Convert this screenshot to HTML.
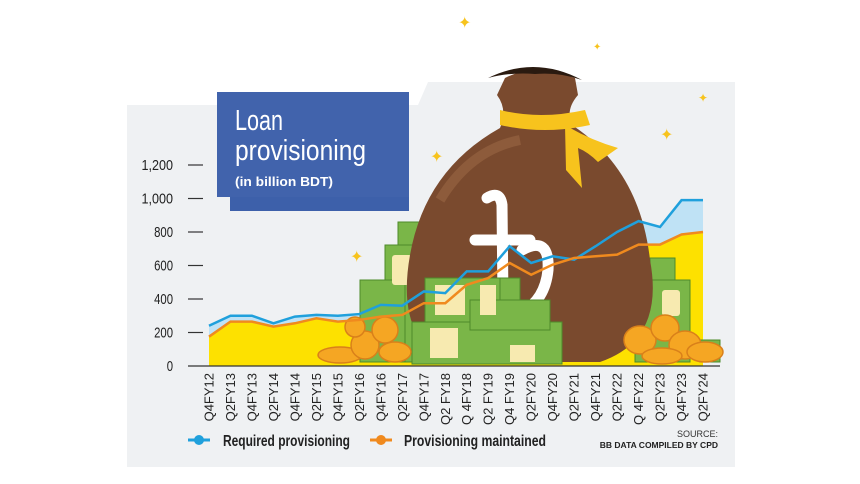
<!DOCTYPE html>
<html><head><meta charset="utf-8">
<style>
html,body{margin:0;padding:0;background:#fff;}
body{width:860px;height:484px;overflow:hidden;position:relative;font-family:"Liberation Sans Narrow","Liberation Sans",sans-serif;}
svg{position:absolute;left:0;top:0;}
</style></head>
<body>
<svg id="chart" width="860" height="484" viewBox="0 0 860 484">
  <path d="M127 105 L418 105 L428 82 L735 82 L735 467 L127 467 Z" fill="#eff1f3"/>
  <g id="areas"></g>
  <g>
    <g fill="#7ab648" stroke="#4e8a2a" stroke-width="1">
      <rect x="398" y="222" width="40" height="140"/>
      <rect x="385" y="245" width="40" height="117"/>
      <rect x="360" y="280" width="45" height="82"/>
      <rect x="650" y="258" width="25" height="104"/>
      <rect x="635" y="280" width="55" height="82"/>
      <rect x="700" y="340" width="20" height="22"/>
    </g>
    <g fill="#f7eab0">
      <rect x="392" y="255" width="20" height="30" rx="3"/>
      <rect x="662" y="290" width="18" height="26" rx="3"/>
    </g>
    <path d="M505 78 Q535 62 575 78 L578 95 Q565 110 572 125 Q640 170 650 260 Q665 340 600 362 L450 362 Q395 340 410 255 Q425 170 500 128 Q508 110 497 95 Z" fill="#7a4a2e"/>
    <path d="M440 200 Q470 150 520 140" stroke="#9a6844" stroke-width="10" fill="none" opacity="0.6"/>
    <path d="M488 78 Q535 55 582 80 Q560 72 535 74 Q510 72 488 78 Z" fill="#2a1a10"/>
    <path d="M500 110 Q540 120 585 110 L590 125 Q545 135 500 125 Z" fill="#f7c31d"/>
    <path d="M565 125 Q590 140 618 148 L598 162 Q588 152 578 148 L582 188 L566 170 Z" fill="#f7c31d"/>
    <g fill="none" stroke="#fff" stroke-width="11" stroke-linecap="round">
      <path d="M487 198 Q500 190 502 205 L503 300 Q506 315 520 312"/>
      <path d="M475 240 L530 240"/>
      <path d="M522 250 Q550 235 548 270 Q545 300 522 312"/>
    </g>
    <g fill="#7ab648" stroke="#4e8a2a" stroke-width="1">
      <rect x="425" y="278" width="85" height="44"/>
      <rect x="500" y="278" width="20" height="44"/>
      <rect x="412" y="322" width="150" height="42"/>
      <rect x="470" y="300" width="80" height="30"/>
    </g>
    <g fill="#f7eab0">
      <rect x="435" y="285" width="30" height="30"/>
      <rect x="480" y="285" width="16" height="30"/>
      <rect x="430" y="328" width="28" height="30"/>
      <rect x="510" y="345" width="25" height="17"/>
    </g>
    <g fill="#f5a623" stroke="#d9801a" stroke-width="1.5">
      <ellipse cx="340" cy="355" rx="22" ry="8"/>
      <ellipse cx="365" cy="345" rx="14" ry="14"/>
      <ellipse cx="385" cy="330" rx="13" ry="13"/>
      <ellipse cx="395" cy="352" rx="16" ry="10"/>
      <ellipse cx="355" cy="327" rx="10" ry="10"/>
      <ellipse cx="640" cy="340" rx="16" ry="14"/>
      <ellipse cx="665" cy="328" rx="14" ry="13"/>
      <ellipse cx="685" cy="345" rx="16" ry="14"/>
      <ellipse cx="705" cy="352" rx="18" ry="10"/>
      <ellipse cx="662" cy="356" rx="20" ry="8"/>
    </g>
    <g fill="#f7c31d" font-size="16">
      <text x="458" y="28">✦</text>
      <text x="430" y="162">✦</text>
      <text x="660" y="140">✦</text>
      <text x="350" y="262">✦</text>
      <text x="698" y="102" font-size="12">✦</text>
      <text x="593" y="50" font-size="10">✦</text>
    </g>
  </g>
  <g id="lines"></g>
  <g id="axes"></g>
  <rect x="230" y="105" width="179" height="106" fill="#3d60aa"/>
  <rect x="217" y="92" width="192" height="105" fill="#4163ac"/>
  <text x="235" y="130" font-size="29" fill="#fff" textLength="48" lengthAdjust="spacingAndGlyphs">Loan</text>
  <text x="235" y="160" font-size="29" fill="#fff" textLength="131" lengthAdjust="spacingAndGlyphs">provisioning</text>
  <text x="235" y="186" font-size="13" font-weight="bold" fill="#fff" textLength="98" lengthAdjust="spacingAndGlyphs">(in billion BDT)</text>
  <g>
    <line x1="188" y1="440" x2="210" y2="440" stroke="#1fa0dc" stroke-width="3"/>
    <circle cx="199" cy="440" r="5" fill="#1fa0dc"/>
    <text x="223" y="446" font-size="16" font-weight="bold" fill="#222" textLength="127" lengthAdjust="spacingAndGlyphs">Required provisioning</text>
    <line x1="370" y1="440" x2="392" y2="440" stroke="#f08a1e" stroke-width="3"/>
    <circle cx="381" cy="440" r="5" fill="#f08a1e"/>
    <text x="404" y="446" font-size="16" font-weight="bold" fill="#222" textLength="142" lengthAdjust="spacingAndGlyphs">Provisioning maintained</text>
  </g>
  <text x="718" y="437" font-size="9" fill="#333" text-anchor="end" font-family="Liberation Sans, sans-serif">SOURCE:</text>
  <text x="718" y="448" font-size="8.5" font-weight="bold" fill="#222" text-anchor="end" font-family="Liberation Sans, sans-serif">BB DATA COMPILED BY CPD</text>
</svg>
<script>
const categories = ["Q4FY12","Q2FY13","Q4FY13","Q2FY14","Q4FY14","Q2FY15","Q4FY15","Q2FY16","Q4FY16","Q2FY17","Q4FY17","Q2 FY18","Q 4FY18","Q2 FY19","Q4 FY19","Q2FY20","Q4FY20","Q2FY21","Q4FY21","Q2FY22","Q 4FY22","Q2FY23","Q4FY23","Q2FY24"];
const required = [240,300,300,255,295,305,300,310,365,360,445,435,565,565,715,615,655,635,715,800,865,830,990,990];
const maintained = [175,265,265,235,255,285,265,275,295,305,375,375,485,525,615,545,605,645,655,665,725,725,785,800];
const yTicks = [0,200,400,600,800,1000,1200];
const tickLabels = ["0","200","400","600","800","1,000","1,200"];

const NS = "http://www.w3.org/2000/svg";
const x0 = 209, x1 = 703, yBase = 366, yTop = 165;
function xs(i){ return x0 + i*(x1-x0)/(categories.length-1); }
function ys(v){ return yBase - v*(yBase-yTop)/1200; }
function mk(tag, attrs, parent){ const e=document.createElementNS(NS,tag); for(const k in attrs) e.setAttribute(k,attrs[k]); parent.appendChild(e); return e; }

const areas = document.getElementById('areas');
const lines = document.getElementById('lines');
const axes = document.getElementById('axes');

function areaPath(arr){ let d="M"+xs(0)+" "+yBase; arr.forEach((v,i)=>{ d+=" L"+xs(i)+" "+ys(v); }); d+=" L"+xs(arr.length-1)+" "+yBase+" Z"; return d; }
function linePath(arr){ return arr.map((v,i)=>(i?"L":"M")+xs(i)+" "+ys(v)).join(" "); }

const aReq = mk('path',{d:areaPath(required),fill:"#bfe2f5"},areas);


const aMai = mk('path',{d:areaPath(maintained),fill:"#fde100"},areas);



const lReq = mk('path',{d:linePath(required),fill:"none",stroke:"#1fa0dc","stroke-width":2.5},lines);


const lMai = mk('path',{d:linePath(maintained),fill:"none",stroke:"#f08a1e","stroke-width":2.5},lines);



const base = mk('line',{x1:188,y1:yBase,x2:720,y2:yBase,stroke:"#333","stroke-width":1.2},axes);



yTicks.forEach((v,i)=>{
  if(v>0){
    const t = mk('line',{x1:188,x2:203,y1:ys(v),y2:ys(v),stroke:"#333","stroke-width":1.2},axes);
    
    
  }
  const w = tickLabels[i].length * 6.3;
  const lb = mk('text',{x:173-w,y:ys(v)+5,"font-size":15,fill:"#222",textLength:w,lengthAdjust:"spacingAndGlyphs"},axes);
  lb.textContent = tickLabels[i];
  
  
});

categories.forEach((c,i)=>{
  const lb = mk('text',{x:0,y:0,"font-size":13,"text-anchor":"end",fill:"#222",transform:"translate("+(xs(i)+4.5)+",373) rotate(-90)"},axes);
  lb.textContent = c;
  
  
});
</script>
</body></html>
